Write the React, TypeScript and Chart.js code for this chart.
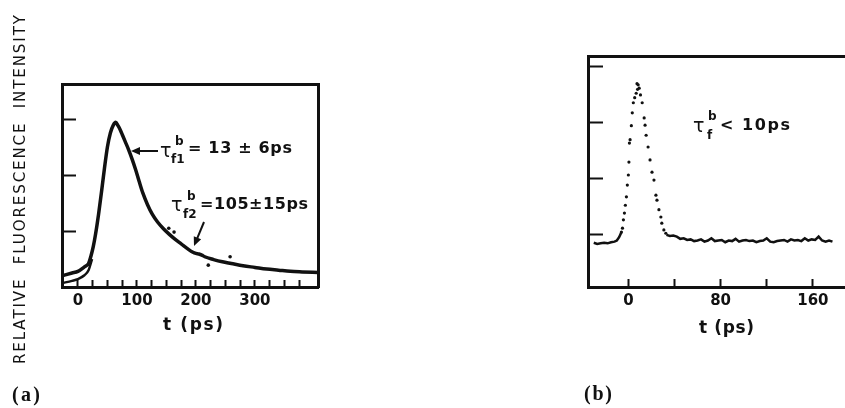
import React, { useEffect, useRef } from "react";
import { Chart, registerables } from "chart.js";

Chart.register(...registerables);

const INK = "#111";

// ---------- Panel (a) data ----------
const aFitT = [-27, -10, 0, 11, 18, 22, 26, 30, 35, 40, 45, 50, 55, 60, 64, 68, 72, 76, 80, 86, 92, 98, 104, 110, 118, 126, 135, 145, 155, 165, 175, 185, 195, 200, 205, 210, 215, 230, 245, 260, 280, 300, 320, 340, 360, 380, 407];
const aFitV = [0.2, 0.25, 0.28, 0.36, 0.42, 0.55, 0.72, 0.95, 1.3, 1.7, 2.12, 2.5, 2.75, 2.89, 2.94, 2.88, 2.8, 2.7, 2.6, 2.45, 2.28, 2.09, 1.88, 1.68, 1.47, 1.3, 1.16, 1.04, 0.94, 0.85, 0.77, 0.69, 0.62, 0.6, 0.59, 0.57, 0.54, 0.49, 0.45, 0.42, 0.38, 0.35, 0.32, 0.3, 0.28, 0.27, 0.26];
const aLowT = [-27, -10, 0, 11, 18, 24];
const aLowV = [0.07, 0.11, 0.14, 0.21, 0.3, 0.5];
const aDotT = [154, 163, 221, 258];
const aDotV = [1.05, 0.98, 0.39, 0.54];
const aXTicks = [0, 25, 50, 75, 100, 125, 150, 175, 200, 225, 250, 275, 300, 325, 350, 375];
const aXLabels = [0, 100, 200, 300];
const aYTicks = [1, 2, 3];

// ---------- Panel (b) data ----------
const bPeakT = [-6, -5.1, -4.3, -3.4, -2.6, -1.7, -0.9, 0, 0.5, 0.9, 1.5, 2.6, 3.4, 4.3, 5.5, 6.8, 7.5, 8, 8.5, 9.4, 10.5, 12, 13.7, 14.5, 15.4, 17.1, 18.8, 20.5, 22.2, 23.9, 24.8, 26.5, 28.2, 29, 30.8, 32.5];
const bPeakV = [1.05, 1.12, 1.27, 1.39, 1.53, 1.68, 1.89, 2.07, 2.3, 2.64, 2.7, 2.95, 3.18, 3.36, 3.45, 3.53, 3.7, 3.6, 3.68, 3.62, 3.5, 3.36, 3.09, 2.96, 2.78, 2.57, 2.34, 2.12, 1.98, 1.71, 1.62, 1.45, 1.32, 1.21, 1.09, 1.03];
const bBaseLT = [-30, -27, -24, -21, -18, -15, -12, -10, -8, -6];
const bBaseLV = [0.86, 0.84, 0.85, 0.86, 0.85, 0.87, 0.88, 0.9, 0.96, 1.05];
const bBaseRT = [33, 36, 39, 42, 45, 48, 51, 54, 57, 60, 63, 66, 69, 72, 75, 78, 81, 84, 87, 90, 93, 96, 99, 102, 105, 108, 111, 114, 117, 120, 123, 126, 129, 132, 135, 138, 141, 144, 147, 150, 153, 156, 159, 162, 165, 168, 171, 174, 177];
const bBaseRV = [1.0, 0.98, 0.99, 0.97, 0.93, 0.94, 0.91, 0.92, 0.89, 0.9, 0.92, 0.88, 0.9, 0.94, 0.89, 0.9, 0.91, 0.87, 0.9, 0.89, 0.93, 0.88, 0.9, 0.91, 0.89, 0.9, 0.87, 0.89, 0.9, 0.94, 0.88, 0.87, 0.89, 0.9, 0.91, 0.88, 0.92, 0.9, 0.91, 0.89, 0.94, 0.9, 0.92, 0.91, 0.97, 0.9, 0.88, 0.9, 0.88];
const bXTicks = [0, 40, 80, 120, 160];
const bXLabels = [0, 80, 160];
const bYTicks = [1, 2, 3, 4];

const pts = (t: number[], v: number[]) => t.map((x, i) => ({ x, y: v[i] }));

// ---------- text helpers ----------
function fitText(ctx: CanvasRenderingContext2D, s: string, x: number, y: number, font: string, width?: number) {
  ctx.save();
  ctx.font = font;
  ctx.fillStyle = INK;
  ctx.textBaseline = "middle";
  ctx.textAlign = "left";
  (ctx as any).letterSpacing = "0px";
  if (width) {
    const w0 = ctx.measureText(s).width;
    const ls = Math.max(0, (width - w0) / Math.max(1, s.length - 1));
    (ctx as any).letterSpacing = ls.toFixed(2) + "px";
  }
  ctx.fillText(s, x, y);
  ctx.restore();
}

function arrow(ctx: CanvasRenderingContext2D, x1: number, y1: number, x2: number, y2: number) {
  const ang = Math.atan2(y2 - y1, x2 - x1);
  const hl = 9, hw = 4;
  ctx.save();
  ctx.strokeStyle = INK;
  ctx.fillStyle = INK;
  ctx.lineWidth = 2;
  ctx.beginPath();
  ctx.moveTo(x1, y1);
  ctx.lineTo(x2 - Math.cos(ang) * hl * 0.8, y2 - Math.sin(ang) * hl * 0.8);
  ctx.stroke();
  ctx.beginPath();
  ctx.moveTo(x2, y2);
  ctx.lineTo(x2 - Math.cos(ang) * hl + Math.sin(ang) * hw, y2 - Math.sin(ang) * hl - Math.cos(ang) * hw);
  ctx.lineTo(x2 - Math.cos(ang) * hl - Math.sin(ang) * hw, y2 - Math.sin(ang) * hl + Math.cos(ang) * hw);
  ctx.closePath();
  ctx.fill();
  ctx.restore();
}

const TAU = "19px 'DejaVu Sans'";
const SUP = "bold 12px 'DejaVu Sans'";
const ANN = "bold 16px 'DejaVu Sans'";
const AXT = "bold 17px 'DejaVu Sans'";
const PANEL = "bold 20px 'Liberation Serif'";

const annotA = {
  id: "annotA",
  afterDraw(chart: any) {
    const ctx: CanvasRenderingContext2D = chart.ctx;
    // vertical axis title
    ctx.save();
    ctx.translate(21, 364);
    ctx.rotate(-Math.PI / 2);
    fitText(ctx, "RELATIVE  FLUORESCENCE  INTENSITY", 0, 0, "15px 'DejaVu Sans'", 349);
    ctx.restore();
    // panel label and axis title
    fitText(ctx, "(a)", 12, 396, PANEL, 28);
    fitText(ctx, "t (ps)", 163, 326, AXT, 60);
    // tau f1
    arrow(ctx, 158, 151, 131, 151);
    fitText(ctx, "τ", 160, 152, TAU);
    fitText(ctx, "b", 175, 142, SUP);
    fitText(ctx, "f1", 171, 160, SUP);
    fitText(ctx, "= 13 ± 6ps", 188, 149, ANN, 104);
    // tau f2
    fitText(ctx, "τ", 171, 206, TAU);
    fitText(ctx, "b", 187, 197, SUP);
    fitText(ctx, "f2", 183, 215, SUP);
    fitText(ctx, "=105±15ps", 200, 205, ANN, 108);
    arrow(ctx, 204, 222, 194, 246);
  },
};

const annotB = {
  id: "annotB",
  afterDraw(chart: any) {
    const ctx: CanvasRenderingContext2D = chart.ctx;
    fitText(ctx, "(b)", 164, 395, PANEL, 28);
    fitText(ctx, "t (ps)", 279, 329, AXT, 55);
    fitText(ctx, "τ", 273, 127, TAU);
    fitText(ctx, "b", 288, 117, SUP);
    fitText(ctx, "f", 287, 136, SUP);
    fitText(ctx, "< 10ps", 300, 126, ANN, 70);
  },
};

const tickFont = { family: "DejaVu Sans", weight: "bold" as const, size: 15 };

function frameAxis(position: string, size: number) {
  const horiz = position === "top" || position === "bottom";
  return {
    type: "linear",
    position,
    display: true,
    ticks: { display: false },
    grid: { display: false, drawTicks: false },
    border: { display: true, width: 3, color: INK },
    afterFit: (s: any) => {
      if (horiz) s.height = size;
      else s.width = size;
    },
  };
}

export default function App() {
  const refA = useRef<HTMLCanvasElement>(null);
  const refB = useRef<HTMLCanvasElement>(null);

  useEffect(() => {
    const chartA = new Chart(refA.current!, {
      type: "line",
      data: {
        datasets: [
          {
            data: pts(aFitT, aFitV),
            borderColor: INK,
            borderWidth: 3.5,
            pointRadius: 0,
            cubicInterpolationMode: "monotone",
          } as any,
          {
            data: pts(aLowT, aLowV),
            borderColor: INK,
            borderWidth: 2.5,
            pointRadius: 0,
            cubicInterpolationMode: "monotone",
          } as any,
          {
            type: "scatter",
            data: pts(aDotT, aDotV),
            backgroundColor: INK,
            borderWidth: 0,
            pointRadius: 1.8,
          } as any,
        ],
      },
      options: {
        responsive: false,
        devicePixelRatio: 1,
        animation: false,
        events: [],
        layout: { padding: { top: 84, right: 102, left: 0, bottom: 0 } },
        plugins: { legend: { display: false }, tooltip: { enabled: false } },
        scales: {
          x: {
            type: "linear",
            position: "bottom",
            min: -27,
            max: 407,
            afterBuildTicks: (s: any) => {
              s.ticks = aXTicks.map((value) => ({ value }));
            },
            afterFit: (s: any) => {
              s.height = 121;
            },
            ticks: {
              autoSkip: false,
              maxRotation: 0,
              padding: 12,
              color: INK,
              font: tickFont,
              callback: (v: any) => (aXLabels.includes(Number(v)) ? String(v) : ""),
            },
            grid: { display: true, drawOnChartArea: false, drawTicks: true, tickLength: -7, tickWidth: 2, tickColor: INK },
            border: { display: true, width: 3, color: INK },
          },
          y: {
            type: "linear",
            position: "left",
            min: 0,
            max: 3.625,
            afterBuildTicks: (s: any) => {
              s.ticks = aYTicks.map((value) => ({ value }));
            },
            afterFit: (s: any) => {
              s.width = 62;
            },
            ticks: { display: false },
            grid: { display: true, drawOnChartArea: false, drawTicks: true, tickLength: -14, tickWidth: 2, tickColor: INK },
            border: { display: true, width: 3, color: INK },
          },
          xt: frameAxis("top", 0),
          yr: frameAxis("right", 0),
        } as any,
      },
      plugins: [annotA],
    });

    const chartB = new Chart(refB.current!, {
      type: "line",
      data: {
        datasets: [
          {
            data: pts(bBaseLT, bBaseLV),
            borderColor: INK,
            borderWidth: 2.5,
            pointRadius: 0,
            tension: 0,
          } as any,
          {
            data: pts(bBaseRT, bBaseRV),
            borderColor: INK,
            borderWidth: 2.5,
            pointRadius: 0,
            tension: 0,
          } as any,
          {
            type: "scatter",
            data: pts(bPeakT, bPeakV),
            backgroundColor: INK,
            borderWidth: 0,
            pointRadius: 1.6,
          } as any,
        ],
      },
      options: {
        responsive: false,
        devicePixelRatio: 1,
        animation: false,
        events: [],
        layout: { padding: { top: 56, right: 0, left: 0, bottom: 0 } },
        plugins: { legend: { display: false }, tooltip: { enabled: false } },
        scales: {
          x: {
            type: "linear",
            position: "bottom",
            min: -35,
            max: 197.4,
            afterBuildTicks: (s: any) => {
              s.ticks = bXTicks.map((value) => ({ value }));
            },
            afterFit: (s: any) => {
              s.height = 121;
            },
            ticks: {
              autoSkip: false,
              maxRotation: 0,
              padding: 13,
              color: INK,
              font: tickFont,
              callback: (v: any) => (bXLabels.includes(Number(v)) ? String(v) : ""),
            },
            grid: { display: true, drawOnChartArea: false, drawTicks: true, tickLength: -8, tickWidth: 2, tickColor: INK },
            border: { display: true, width: 3, color: INK },
          },
          y: {
            type: "linear",
            position: "left",
            min: 0.07,
            max: 4.195,
            afterBuildTicks: (s: any) => {
              s.ticks = bYTicks.map((value) => ({ value }));
            },
            afterFit: (s: any) => {
              s.width = 168;
            },
            ticks: { display: false },
            grid: { display: true, drawOnChartArea: false, drawTicks: true, tickLength: -15, tickWidth: 2, tickColor: INK },
            border: { display: true, width: 3, color: INK },
          },
          xt: frameAxis("top", 0),
        } as any,
      },
      plugins: [annotB],
    });

    return () => {
      chartA.destroy();
      chartB.destroy();
    };
  }, []);

  return (
    <div
      style={{
        position: "fixed",
        left: 0,
        top: 0,
        width: 845,
        height: 408,
        overflow: "hidden",
        background: "#fff",
      }}
    >
      <canvas ref={refA} width={420} height={408} style={{ position: "absolute", left: 0, top: 0 }} />
      <canvas ref={refB} width={440} height={408} style={{ position: "absolute", left: 420, top: 0 }} />
    </div>
  );
}
